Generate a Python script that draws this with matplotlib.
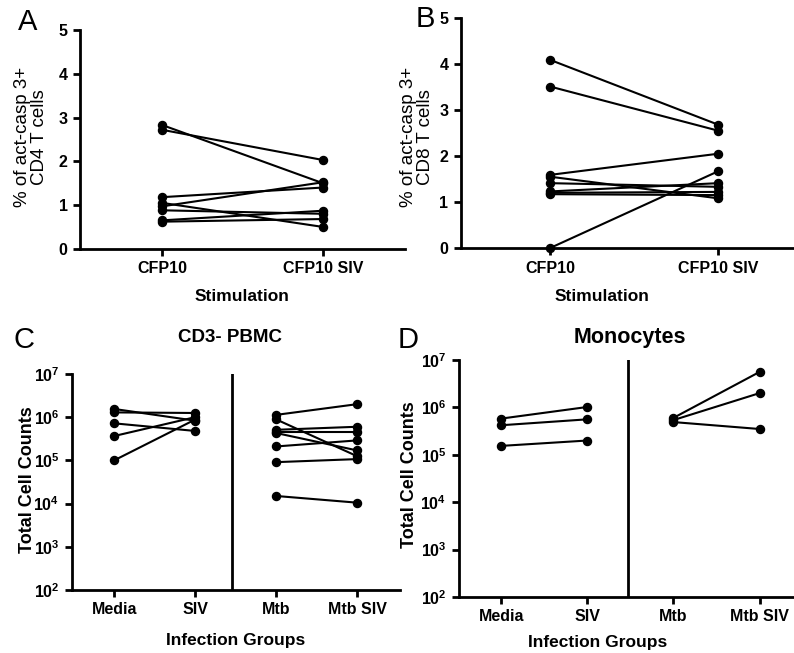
import numpy as np
import matplotlib
matplotlib.use('Agg')
import matplotlib.pyplot as plt

plt.rcParams['font.family'] = ['Liberation Sans', 'DejaVu Sans']
plt.rcParams['mathtext.fontset'] = 'custom'
plt.rcParams['mathtext.rm'] = 'Liberation Sans'
plt.rcParams['mathtext.bf'] = 'Liberation Sans:bold'

# A / B: % act-casp 3+ T cells, paired CFP10 vs CFP10 SIV
stim_labels = ['CFP10', 'CFP10 SIV']
cd4_cfp10 = [2.83, 2.72, 1.18, 0.97, 1.05, 0.88, 0.65, 0.62]
cd4_cfp10_siv = [1.50, 2.03, 1.40, 1.52, 0.50, 0.80, 0.87, 0.68]
cd8_cfp10 = [4.09, 3.51, 1.59, 1.55, 1.41, 1.23, 1.20, 1.17, 0.0]
cd8_cfp10_siv = [2.68, 2.55, 2.05, 1.08, 1.33, 1.41, 1.22, 1.15, 1.67]

# C / D: total cell counts per infection group
group_labels = ['Media', 'SIV', 'Mtb', 'Mtb SIV']
pbmc_media = [1.55e6, 1.29e6, 7.2e5, 3.66e5, 1.0e5]
pbmc_siv = [8.3e5, 1.25e6, 4.8e5, 1.0e6, 8.8e5]
pbmc_mtb = [1.13e6, 8.9e5, 5.1e5, 4.6e5, 4.3e5, 2.1e5, 9.1e4, 1.5e4]
pbmc_mtb_siv = [2.0e6, 1.25e5, 6.0e5, 4.6e5, 1.7e5, 2.9e5, 1.07e5, 1.05e4]
mono_media = [5.8e5, 4.2e5, 1.54e5]
mono_siv = [1.02e6, 5.6e5, 2.0e5]
mono_mtb = [6.0e5, 5.4e5, 4.9e5]
mono_mtb_siv = [5.6e6, 2.0e6, 3.5e5]

fig = plt.figure(figsize=(7.94, 6.53), dpi=100)


def style(ax):
    for s in ['top', 'right']:
        ax.spines[s].set_visible(False)
    for s in ['left', 'bottom']:
        ax.spines[s].set_linewidth(2.0)
    ax.tick_params(width=2.0, length=5, labelsize=11.5, pad=4)
    ax.tick_params(axis='y', which='minor', length=0)


def pairs(ax, x0, x1, left, right):
    for a, b in zip(left, right):
        ax.plot([x0, x1], [a, b], '-o', color='k', lw=1.5, ms=5.8,
                clip_on=False, zorder=3)


def bold_ticks(ax):
    for lab in ax.get_xticklabels() + ax.get_yticklabels():
        lab.set_fontweight('bold')


# panel A
axA = fig.add_axes([0.1008, 0.619, 0.409, 0.335])
pairs(axA, 1, 2, cd4_cfp10, cd4_cfp10_siv)
axA.set_xlim(0.49, 2.51)
axA.set_ylim(0, 5)
axA.set_xticks([1, 2], stim_labels)
axA.set_yticks(range(6))
style(axA)
bold_ticks(axA)

# panel B
axB = fig.add_axes([0.5806, 0.6202, 0.4194, 0.3522])
pairs(axB, 1, 2, cd8_cfp10, cd8_cfp10_siv)
axB.set_xlim(0.47, 2.45)
axB.set_ylim(0, 5)
axB.set_xticks([1, 2], stim_labels)
axB.set_yticks(range(6))
style(axB)
bold_ticks(axB)

log_ticks = [10.0 ** k for k in range(2, 8)]
log_labels = [r'$\mathbf{10^{%d}}$' % k for k in range(2, 8)]

# panel C
axC = fig.add_axes([0.0907, 0.0965, 0.4131, 0.3308])
pairs(axC, 1, 2, pbmc_media, pbmc_siv)
pairs(axC, 3, 4, pbmc_mtb, pbmc_mtb_siv)
axC.axvline(2.46, color='k', lw=2.0)
axC.set_yscale('log')
axC.set_ylim(1e2, 1e7)
axC.set_xlim(0.48, 4.53)
axC.set_yticks(log_ticks, log_labels)
axC.set_xticks([1, 2, 3, 4], group_labels)
style(axC)
bold_ticks(axC)

# panel D
axD = fig.add_axes([0.578, 0.0858, 0.422, 0.3629])
pairs(axD, 1, 2, mono_media, mono_siv)
pairs(axD, 3, 4, mono_mtb, mono_mtb_siv)
axD.axvline(2.47, color='k', lw=2.0)
axD.set_yscale('log')
axD.set_ylim(1e2, 1e7)
axD.set_xlim(0.51, 4.4)
axD.set_yticks(log_ticks, log_labels)
axD.set_xticks([1, 2, 3, 4], group_labels)
style(axD)
bold_ticks(axD)

# labels placed in figure pixel space
W, H = 794, 653


def ftext(x, y, s, **kw):
    fig.text(x / W, 1 - y / H, s, ha='center', va='center', **kw)


ftext(28, 22, 'A', fontsize=21)
ftext(425, 19, 'B', fontsize=21)
ftext(24, 340, 'C', fontsize=21)
ftext(408, 340, 'D', fontsize=21)

ftext(31, 137, '% of act-casp 3+\nCD4 T cells', fontsize=13.5, rotation=90,
      linespacing=1.0)
ftext(417, 137, '% of act-casp 3+\nCD8 T cells', fontsize=13.5, rotation=90,
      linespacing=1.0)
ftext(27, 480, 'Total Cell Counts', fontsize=13, fontweight='bold',
      rotation=90)
ftext(410, 475, 'Total Cell Counts', fontsize=13, fontweight='bold',
      rotation=90)

ftext(242, 297, 'Stimulation', fontsize=12.5, fontweight='bold')
ftext(602, 297, 'Stimulation', fontsize=12.5, fontweight='bold')
ftext(236, 640, 'Infection Groups', fontsize=12.5, fontweight='bold')
ftext(598, 643, 'Infection Groups', fontsize=12.5, fontweight='bold')

ftext(230, 338, 'CD3- PBMC', fontsize=13.5, fontweight='bold')
ftext(630, 337, 'Monocytes', fontsize=15.5, fontweight='bold')

fig.savefig('out.png', dpi=100)
